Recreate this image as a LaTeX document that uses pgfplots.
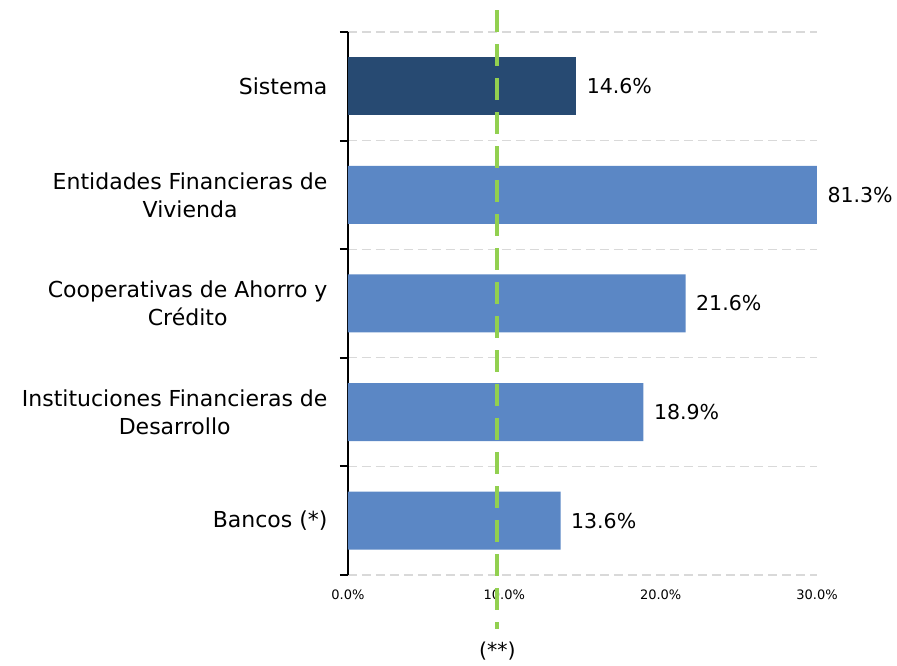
\documentclass[border=0pt]{standalone}
\usepackage{pgfplots}
\pgfplotsset{compat=1.18}
\usepackage{pgfplotstable}
\usepackage{fontspec}
\setmainfont{DejaVu Sans}
\usetikzlibrary{calc}
\definecolor{navy}{HTML}{274A72}
\definecolor{midblue}{HTML}{5B87C5}
\definecolor{limegreen}{HTML}{92D050}
\definecolor{gridgray}{HTML}{D9D9D9}
\pgfplotstableread{
y x
0 13.6
1 18.9
2 21.6
3 81.3
}\others
\pgfplotstableread{
y x
4 14.6
}\sistema
\pgfplotsset{
  barlabels/.style={
    xbar, bar width=58pt, bar shift=0pt,
    point meta=explicit,
    nodes near coords={\pgfmathprintnumber[fixed,fixed zerofill,precision=1]{\pgfplotspointmeta}\%},
    nodes near coords style={font=\fontsize{20.5}{24}\selectfont, anchor=west, xshift=7pt, /pgf/number format/assume math mode=true},
  }
}
\begin{document}
\begin{tikzpicture}
\begin{axis}[
  name=ax,
  scale only axis,
  width=469pt, height=543pt,
  xmin=0, xmax=30,
  ymin=-0.5, ymax=4.5,
  clip=false,
  axis lines*=left,
  x axis line style={draw=none},
  y axis line style={black, line width=2.2pt},
  xtick={0,10,20,30},
  xticklabel={\pgfmathprintnumber[fixed,fixed zerofill,precision=1]{\tick}\%},
  xticklabel style={font=\fontsize{13}{15}\selectfont, yshift=-11pt},
  /pgf/number format/assume math mode=true,
  ytick={0,1,2,3,4},
  yticklabels={Bancos (*), {Instituciones Financieras de\\Desarrollo}, {Cooperativas de Ahorro y\\Crédito}, {Entidades Financieras de\\Vivienda}, Sistema},
  yticklabel style={align=center, font=\fontsize{22}{28}\selectfont, xshift=-17pt},
  minor ytick={-0.5,0.5,1.5,2.5,3.5,4.5},
  major tick length=0pt,
  minor tick length=8pt,
  tick align=outside,
  ytick pos=left,
  minor tick style={black, line width=2pt},
  yminorgrids=true,
  minor grid style={gridgray, line width=1.2pt, dash pattern=on 9pt off 5pt},
]
\addplot[barlabels, fill=midblue, draw=none, restrict x to domain*=0:30] table[x=x, y=y, meta=x]{\others};
\addplot[barlabels, fill=navy, draw=none] table[x=x, y=y, meta=x]{\sistema};
\addplot[draw=limegreen, line width=4pt, dash pattern=on 22pt off 12pt] coordinates {(9.55,4.7) (9.55,-1.0)};
\node[font=\fontsize{20.5}{24}\selectfont] at (axis cs:9.55,-1.2) {(**)};
\end{axis}
\useasboundingbox ($(ax.south west)+(-348pt,-91pt)$) rectangle ($(ax.north east)+(80pt,32pt)$);
\end{tikzpicture}
\end{document}
